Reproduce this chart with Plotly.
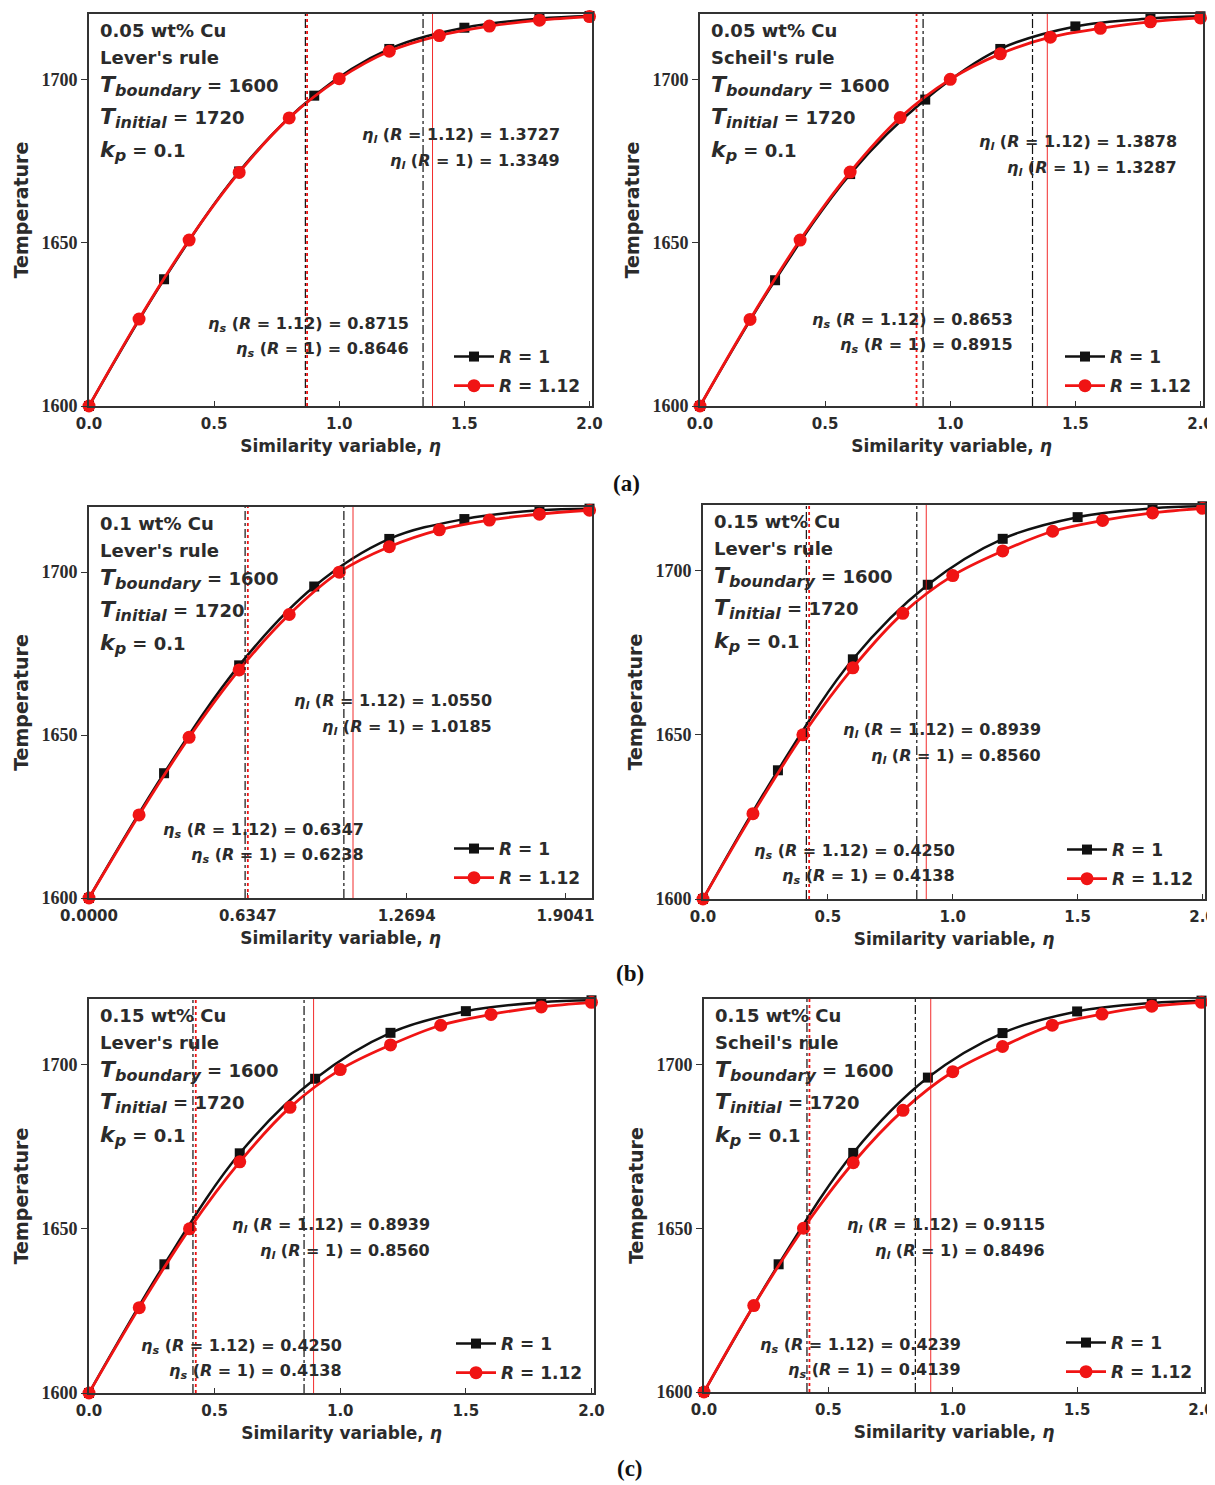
import plotly.graph_objects as go

# ---------------- data ----------------
eta_red = [0.0, 0.2, 0.4, 0.6, 0.8, 1.0, 1.2, 1.4, 1.6, 1.8, 2.0]   # R = 1.12 markers
eta_blk = [0.0, 0.3, 0.6, 0.9, 1.2, 1.5, 1.8, 2.0]                  # R = 1 markers

T_red_a_lever = [1600, 1626.6, 1650.8, 1671.5, 1688.2, 1700.2, 1708.6, 1713.4, 1716.3, 1718.1, 1719.2]
T_blk_a_lever = [1600, 1638.8, 1671.8, 1695.0, 1709.3, 1715.8, 1718.6, 1719.4]
T_red_a_scheil = [1600, 1626.5, 1650.8, 1671.6, 1688.3, 1700.0, 1707.8, 1712.9, 1715.6, 1717.6, 1718.8]
T_blk_a_scheil = [1600, 1638.5, 1671.0, 1693.8, 1709.3, 1716.2, 1718.6, 1719.3]
T_red_b_lever01 = [1600, 1625.5, 1649.3, 1670.0, 1687.0, 1700.0, 1707.8, 1713.0, 1716.0, 1717.8, 1719.0]
T_blk_b_lever01 = [1600, 1638.3, 1671.4, 1695.6, 1710.2, 1716.3, 1719.0, 1719.5]
T_red_lever015 = [1600, 1626.0, 1650.0, 1670.4, 1687.0, 1698.5, 1706.0, 1712.0, 1715.3, 1717.6, 1719.0]
T_blk_lever015 = [1600, 1639.2, 1673.0, 1695.7, 1709.7, 1716.3, 1719.0, 1719.6]
T_red_scheil015 = [1600, 1626.4, 1650.0, 1670.0, 1686.0, 1697.8, 1705.5, 1712.0, 1715.4, 1717.8, 1719.0]
T_blk_scheil015 = [1600, 1639.0, 1673.0, 1696.0, 1709.6, 1716.2, 1718.8, 1719.5]

red_series = [T_red_a_lever, T_red_a_scheil, T_red_b_lever01, T_red_lever015, T_red_lever015, T_red_scheil015]
blk_series = [T_blk_a_lever, T_blk_a_scheil, T_blk_b_lever01, T_blk_lever015, T_blk_lever015, T_blk_scheil015]

compositions = ["0.05 wt% Cu", "0.05 wt% Cu", "0.1 wt% Cu", "0.15 wt% Cu", "0.15 wt% Cu", "0.15 wt% Cu"]
rules = ["Lever's rule", "Scheil's rule", "Lever's rule", "Lever's rule", "Lever's rule", "Scheil's rule"]

eta_s_R112 = [0.8715, 0.8653, 0.6347, 0.4250, 0.4250, 0.4239]
eta_s_R1 = [0.8646, 0.8915, 0.6238, 0.4138, 0.4138, 0.4139]
eta_l_R112 = [1.3727, 1.3878, 1.0550, 0.8939, 0.8939, 0.9115]
eta_l_R1 = [1.3349, 1.3287, 1.0185, 0.8560, 0.8560, 0.8496]

y_ticks = [1600, 1650, 1700]
x_ticks_std = [0.0, 0.5, 1.0, 1.5, 2.0]
x_ticklabels_std = ["0.0", "0.5", "1.0", "1.5", "2.0"]
x_ticks_b = [0.0, 0.6347, 1.2694, 1.9041]
x_ticklabels_b = ["0.0000", "0.6347", "1.2694", "1.9041"]

panel_labels = ["(a)", "(b)", "(c)"]

# ---------------- layout geometry (pixels, as seen in the page) ----------------
W, H = 1215, 1485
PAGE_OFF = 8  # default page margin around the plot div
boxes = [  # x0, x1, ytop, ybottom
    (89, 592, 14, 406),
    (700, 1203, 14, 406),
    (89, 592, 507, 898),
    (703, 1205, 505, 899),
    (89, 594, 999, 1393),
    (704, 1204, 999, 1392),
]
# eta annotations: (right edge frac, center px from top) for eta_l and eta_s blocks
eta_l_pos = [(0.94, 121), (0.952, 128), (0.805, 194), (0.677, 225), (0.68, 226), (0.685, 226)]
eta_s_pos = [(0.64, 310), (0.627, 306), (0.55, 323), (0.506, 346), (0.505, 347), (0.518, 346)]
label_pos = [(627, 483), (630, 973), (630, 1468)]


def fx_(p):
    return (p - PAGE_OFF) / W


def fy_(p):
    return 1 - (p - PAGE_OFF) / H


SANS = "DejaVu Sans, Verdana, sans-serif"
SERIF = "Liberation Serif, Times New Roman, serif"
RED = "#f01414"
BLK = "#111111"
AX = "#333333"
TXT = "#2b2b2b"

fig = go.Figure()
layout = dict(width=W, height=H, margin=dict(l=0, r=0, t=0, b=0, autoexpand=False),
              paper_bgcolor="white", plot_bgcolor="white", showlegend=True)
annotations = []
shapes = []

for i in range(6):
    n = i + 1
    xa = "x" if n == 1 else f"x{n}"
    ya = "y" if n == 1 else f"y{n}"
    xkey = "xaxis" if n == 1 else f"xaxis{n}"
    ykey = "yaxis" if n == 1 else f"yaxis{n}"
    lg = "legend" if n == 1 else f"legend{n}"
    x0, x1, yt, yb = boxes[i]
    pw, ph = x1 - x0, yb - yt

    fig.add_trace(go.Scatter(
        x=eta_blk, y=blk_series[i], xaxis=xa, yaxis=ya, mode="lines+markers",
        line=dict(color=BLK, width=2.5, shape="spline"),
        marker=dict(symbol="square", size=10, color=BLK),
        name="<i>R</i> = 1", legend=lg, legendgroup=f"b{n}", cliponaxis=False))
    fig.add_trace(go.Scatter(
        x=eta_red, y=red_series[i], xaxis=xa, yaxis=ya, mode="lines+markers",
        line=dict(color=RED, width=2.8, shape="spline"),
        marker=dict(symbol="circle", size=13, color=RED),
        name="<i>R</i> = 1.12", legend=lg, legendgroup=f"r{n}", cliponaxis=False))

    if i == 2:
        tv, tt = x_ticks_b, x_ticklabels_b
    else:
        tv, tt = x_ticks_std, x_ticklabels_std

    layout[xkey] = dict(
        domain=[fx_(x0), fx_(x1)], anchor=ya, range=[0, 2.01], automargin=False,
        tickvals=tv, ticktext=tt, ticks="inside", ticklen=5, tickcolor=AX,
        ticklabelstandoff=3,
        showline=True, linecolor=AX, linewidth=1.6, mirror=True,
        showgrid=False, zeroline=False,
        tickfont=dict(family=SANS, size=15, color=TXT, weight="bold"),
        title=dict(text="Similarity variable, <i>η</i>", standoff=8,
                   font=dict(family=SANS, size=17, color=TXT, weight="bold")))
    layout[ykey] = dict(
        domain=[fy_(yb), fy_(yt)], anchor=xa, range=[1600, 1720], automargin=False,
        tickvals=y_ticks, ticks="outside", ticklen=6, tickcolor=AX,
        showline=True, linecolor=AX, linewidth=1.6, mirror=True,
        showgrid=False, zeroline=False,
        tickfont=dict(family=SERIF, size=18, color=TXT, weight="bold"),
        title=dict(text="Temperature", standoff=8,
                   font=dict(family=SANS, size=19, color=TXT, weight="bold")))

    layout[lg] = dict(
        x=fx_(x1 - 6), xanchor="right", y=fy_(yb - 2), yanchor="bottom",
        xref="paper", yref="paper",
        bgcolor="rgba(0,0,0,0)", borderwidth=0, tracegroupgap=4,
        font=dict(family=SANS, size=17, color=TXT, weight="bold"),
        itemwidth=40)

    # vertical marker lines
    for v, col, dash, wdt in [(eta_s_R1[i], BLK, "dashdot", 1.2),
                              (eta_s_R112[i], RED, "dot", 1.8),
                              (eta_l_R1[i], BLK, "dashdot", 1.2),
                              (eta_l_R112[i], RED, "solid", 0.9)]:
        shapes.append(dict(type="line", xref=xa, yref=f"{ya} domain",
                           x0=v, x1=v, y0=0, y1=1,
                           line=dict(color=col, dash=dash, width=wdt), layer="above"))

    # text block
    big = '<span style="font-size:22px"><i>{}</i></span>'
    subt = '<sub><span style="font-size:16px"><i>{}</i></span></sub>'
    lines = [
        (compositions[i], 18),
        (rules[i], 18),
        (big.format("T") + subt.format("boundary") + " = 1600", 18),
        (big.format("T") + subt.format("initial") + " = 1720", 18),
        (big.format("k") + subt.format("p") + " = 0.1", 18),
    ]
    offs = [16, 43, 72, 104, 137]
    for (txt, fs), off in zip(lines, offs):
        annotations.append(dict(
            text=txt, xref=f"{xa} domain", yref=f"{ya} domain",
            x=9 / pw, y=1 - off / ph, xanchor="left", yanchor="middle",
            showarrow=False, align="left",
            font=dict(family=SANS, size=fs, color=TXT, weight="bold")))

    efont = dict(family=SANS, size=16, color=TXT, weight="bold")
    ex, cy = eta_l_pos[i]
    annotations.append(dict(
        text=f"<i>η<sub>l</sub></i> (<i>R</i> = 1.12) = {eta_l_R112[i]:.4f}",
        xref=f"{xa} domain", yref=f"{ya} domain", x=ex, y=1 - cy / ph,
        xanchor="right", yanchor="middle", showarrow=False, font=efont))
    annotations.append(dict(
        text=f"<i>η<sub>l</sub></i> (<i>R</i> = 1) = {eta_l_R1[i]:.4f}",
        xref=f"{xa} domain", yref=f"{ya} domain", x=ex, y=1 - (cy + 26) / ph,
        xanchor="right", yanchor="middle", showarrow=False, font=efont))
    ex, cy = eta_s_pos[i]
    annotations.append(dict(
        text=f"<i>η<sub>s</sub></i> (<i>R</i> = 1.12) = {eta_s_R112[i]:.4f}",
        xref=f"{xa} domain", yref=f"{ya} domain", x=ex, y=1 - cy / ph,
        xanchor="right", yanchor="middle", showarrow=False, font=efont))
    annotations.append(dict(
        text=f"<i>η<sub>s</sub></i> (<i>R</i> = 1) = {eta_s_R1[i]:.4f}",
        xref=f"{xa} domain", yref=f"{ya} domain", x=ex, y=1 - (cy + 25) / ph,
        xanchor="right", yanchor="middle", showarrow=False, font=efont))

for lab, (px, py) in zip(panel_labels, label_pos):
    annotations.append(dict(text=lab, xref="paper", yref="paper", x=fx_(px), y=fy_(py),
                            xanchor="center", yanchor="middle", showarrow=False,
                            font=dict(family=SERIF, size=23, color="#111", weight="bold")))

layout["annotations"] = annotations
layout["shapes"] = shapes
fig.update_layout(**layout)
fig.write_html("out.html")
